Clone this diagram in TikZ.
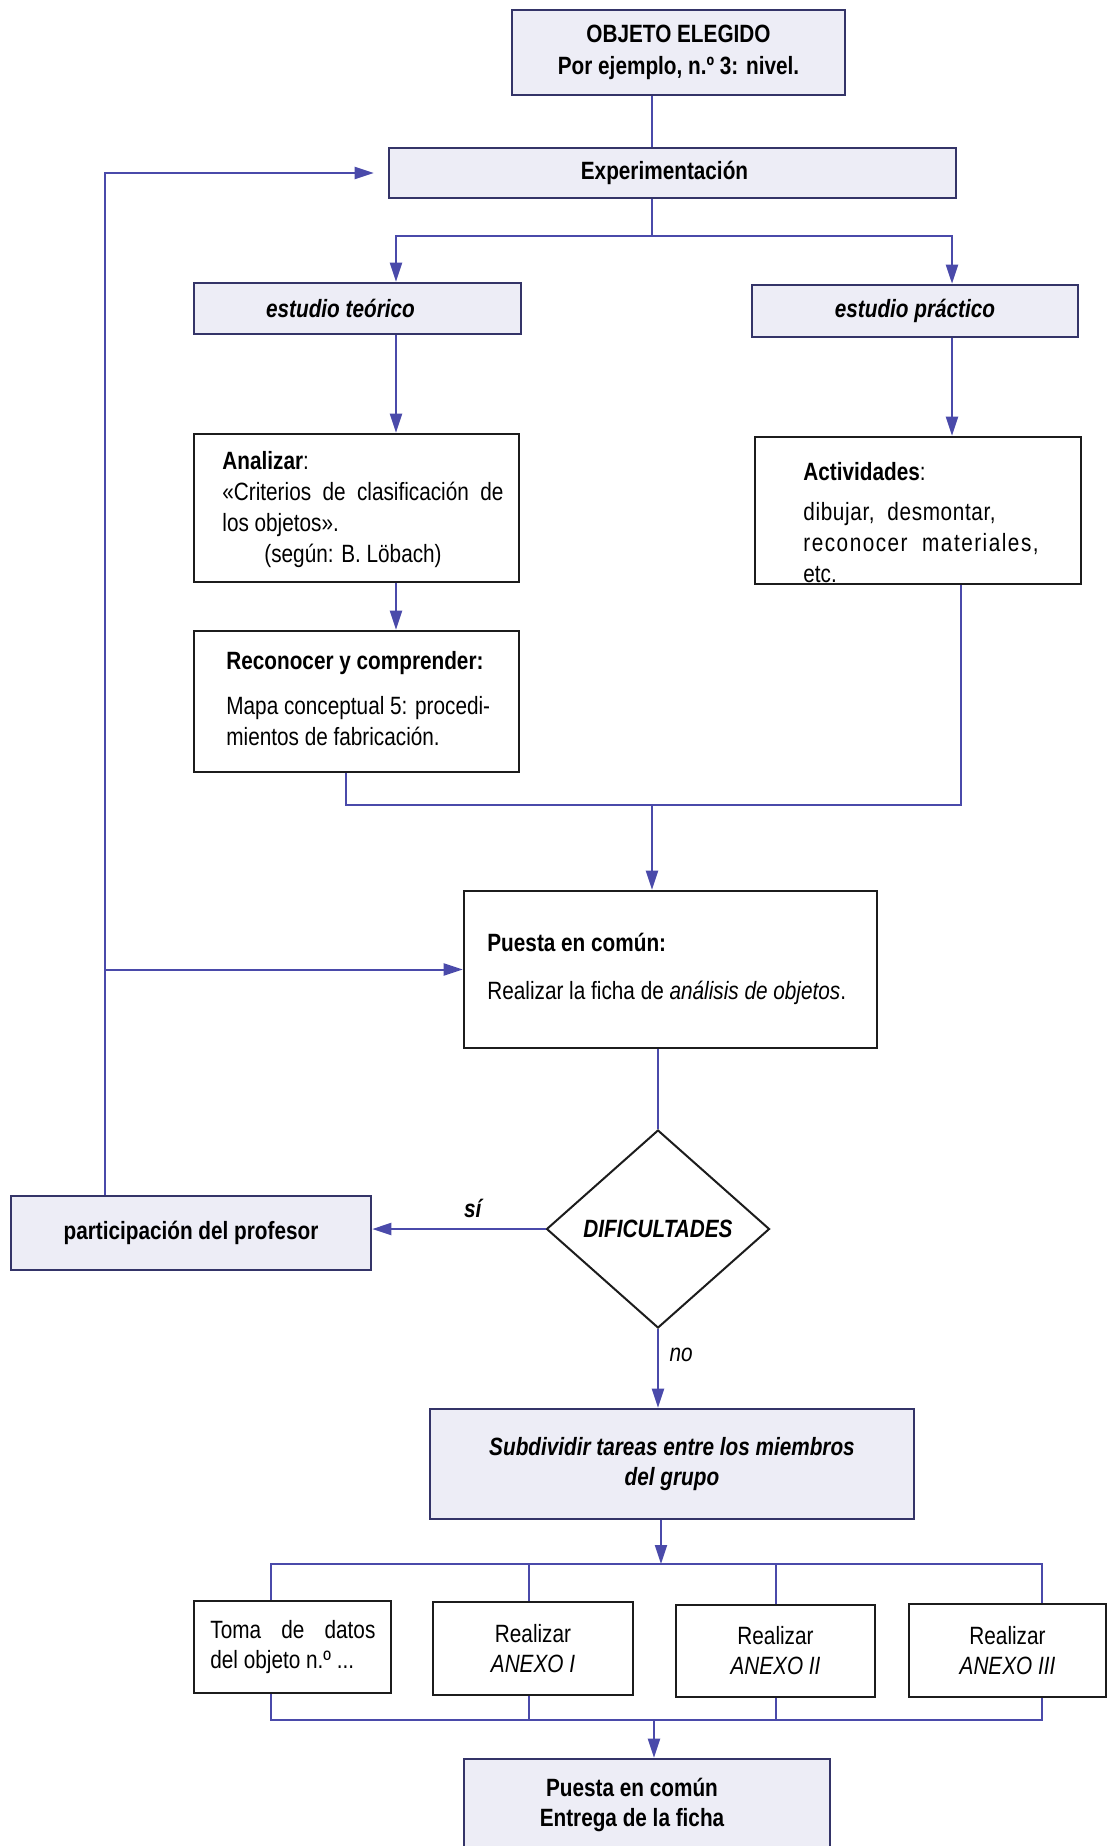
\documentclass[tikz,border=0pt]{standalone}
\usepackage{fontspec}
\setmainfont{Liberation Sans}[FakeStretch=0.83]
\usetikzlibrary{arrows.meta,shapes.geometric}

\definecolor{linkblue}{RGB}{74,74,170}
\definecolor{framenavy}{RGB}{52,52,104}
\definecolor{panelfill}{RGB}{237,237,246}
\definecolor{inkblack}{RGB}{28,28,28}

\newcommand\dgsize{\fontsize{12.5pt}{15.5pt}\selectfont}

\begin{document}
\begin{tikzpicture}[x=0.5pt,y=-0.5pt,
  font=\dgsize,
  panel/.style={draw=framenavy, fill=panelfill, line width=1.3pt, inner sep=0pt, align=center},
  plain/.style={draw=inkblack, fill=white, line width=1.3pt, inner sep=0pt, align=center},
  txt/.style={inner sep=0pt, anchor=north west, align=left},
  conn/.style={draw=linkblue, line width=1pt},
  arr/.style={conn, -{Triangle[length=9.5pt,width=6pt]}}]

\useasboundingbox (0,0) rectangle (1114,1846);
\fill[white] (0,0) rectangle (1114,1846);
\clip (0,0) rectangle (1114,1846);

% ---- boxes ----
\node[panel, minimum width=166.5pt, minimum height=42.5pt,
      font={\fontsize{12.5pt}{16pt}\selectfont\bfseries}] (obj) at (678.5,52.5)
      {OBJETO ELEGIDO\\Por ejemplo, n.º 3: nivel.};
\node[panel, minimum width=283.5pt, minimum height=25pt, font={\dgsize\bfseries}]
      (exp) at (672.5,173) {Experimentación\hspace*{8pt}};
\node[panel, minimum width=163.5pt, minimum height=25.5pt, font={\dgsize\bfseries\itshape}]
      (teo) at (357.5,308.5) {estudio teórico\hspace*{17pt}};
\node[panel, minimum width=163pt, minimum height=26pt, font={\dgsize\bfseries\itshape}]
      (pra) at (915,311) {estudio práctico};

\node[plain, minimum width=162.5pt, minimum height=74pt] (ana) at (356.5,508) {};
\node[plain, minimum width=163pt, minimum height=73.5pt] (act) at (918,510.5) {};
\node[plain, minimum width=162.5pt, minimum height=70.5pt] (rec) at (356.5,701.5) {};
\node[plain, minimum width=206.5pt, minimum height=78.5pt] (pue) at (670.5,969.5) {};

\node[draw=inkblack, fill=white, line width=1pt, shape=diamond, aspect=1.13,
      minimum width=111.5pt, minimum height=99pt, inner sep=0pt,
      font={\dgsize\bfseries\itshape}] (dif) at (658,1229) {DIFICULTADES};

\node[panel, minimum width=180pt, minimum height=37pt, font={\dgsize\bfseries}]
      (par) at (191,1233) {participación del profesor};
\node[panel, minimum width=242pt, minimum height=55pt,
      font={\fontsize{12.5pt}{15pt}\selectfont\bfseries\itshape}]
      (sub) at (672,1464) {Subdividir tareas entre los miembros\\del grupo};

\node[plain, minimum width=98.5pt, minimum height=46pt] (tom) at (292.5,1647) {};
\node[plain, minimum width=100pt, minimum height=46.5pt,
      font={\fontsize{12.5pt}{15pt}\selectfont}] (r1) at (533,1648.5)
      {Realizar\\\textit{ANEXO I}};
\node[plain, minimum width=99.5pt, minimum height=46pt,
      font={\fontsize{12.5pt}{15pt}\selectfont}] (r2) at (775.5,1651)
      {Realizar\\\textit{ANEXO II}};
\node[plain, minimum width=98.5pt, minimum height=46.5pt,
      font={\fontsize{12.5pt}{15pt}\selectfont}] (r3) at (1007.5,1650.5)
      {Realizar\\\textit{ANEXO III}};

\node[panel, minimum width=183pt, minimum height=45.5pt,
      font={\fontsize{12.5pt}{15pt}\selectfont\bfseries}] (fin) at (647,1804.5)
      {Puesta en común\hspace*{15pt}\\Entrega de la ficha\hspace*{15pt}};

% ---- texts set flush left inside the white boxes ----
\node[txt] (anatext) at (222,451)
  {\textbf{Analizar}:\\
   \makebox[140.5pt][s]{«Criterios de clasificación de}\\
   los objetos».\\
   \hspace*{21pt}(según: B. Löbach)};
\node[txt] (acttext) at (803,462)
  {\textbf{Actividades}:\\[4.5pt]
   {\addfontfeature{LetterSpace=2.5}dibujar,\ \ desmontar,}\\
   {\addfontfeature{LetterSpace=6}reconocer\ \ materiales,}\\
   etc.};
\node[txt] (rectext) at (226,651)
  {\textbf{Reconocer y comprender:}\\[7pt]
   Mapa conceptual 5: procedi-\\
   mientos de fabricación.};
\node[txt] (puetext) at (487,933)
  {\textbf{Puesta en común:}\\[8.5pt]
   Realizar la ficha de \textit{análisis de objetos}.};
\node[txt, font={\fontsize{12.5pt}{15pt}\selectfont}] (tomtext) at (210,1620)
  {\makebox[82.5pt][s]{Toma de datos}\\
   del objeto n.º ...};

% ---- connector guide positions ----
\coordinate (ax) at (652,0);
\coordinate (tx) at (396,0);
\coordinate (px) at (952,0);
\coordinate (split) at (652,236);
\coordinate (rx) at (346,0);
\coordinate (mr) at (961,805);
\coordinate (merge) at (652,805);
\coordinate (fbx) at (105,0);
\coordinate (dx) at (661,0);
\coordinate (bar1) at (661,1564);
\coordinate (bar2) at (654,1720);
\coordinate (d1) at (271,0);
\coordinate (d2) at (529,0);
\coordinate (d3) at (776,0);
\coordinate (d4) at (1042,0);

% ---- connectors ----
\draw[conn] (obj.south -| ax) -- (exp.north -| ax);
\draw[conn] (exp.south -| ax) -- (split);
\draw[arr] (split) -| (teo.north -| tx);
\draw[arr] (split) -| (pra.north -| px);
\draw[arr] (teo.south -| tx) -- (ana.north -| tx);
\draw[arr] (pra.south -| px) -- (act.north -| px);
\draw[arr] (ana.south -| tx) -- (rec.north -| tx);
\draw[conn] (rec.south -| rx) |- (mr) -- (act.south -| mr);
\draw[arr] (merge) -- (pue.north -| merge);

\draw[arr, shorten >=7pt] (par.north -| fbx) |- (exp.west);
\draw[arr] (fbx |- pue.west) -- (pue.west);

\draw[conn] (pue.south -| dif.north) -- (dif.north);
\draw[arr] (dif.west) -- (dif.west -| par.east)
  node[pos=0.42, above=2pt, font={\dgsize\bfseries\itshape}] (si) {sí};
\draw[arr] (dif.south) -- (sub.north -| dif.south)
  node[pos=0.33, right=2pt, font={\dgsize\itshape}] (no) {no};

\draw[arr] (sub.south -| dx) -- (bar1);
\draw[conn] (tom.north -| d1) |- (d4 |- bar1) -- (r3.north -| d4);
\draw[conn] (r1.north -| d2) -- (d2 |- bar1);
\draw[conn] (r2.north -| d3) -- (d3 |- bar1);
\draw[conn] (tom.south -| d1) |- (d4 |- bar2) -- (r3.south -| d4);
\draw[conn] (r1.south -| d2) -- (d2 |- bar2);
\draw[conn] (r2.south -| d3) -- (d3 |- bar2);
\draw[arr] (bar2) -- (fin.north -| bar2);

\end{tikzpicture}
\end{document}
